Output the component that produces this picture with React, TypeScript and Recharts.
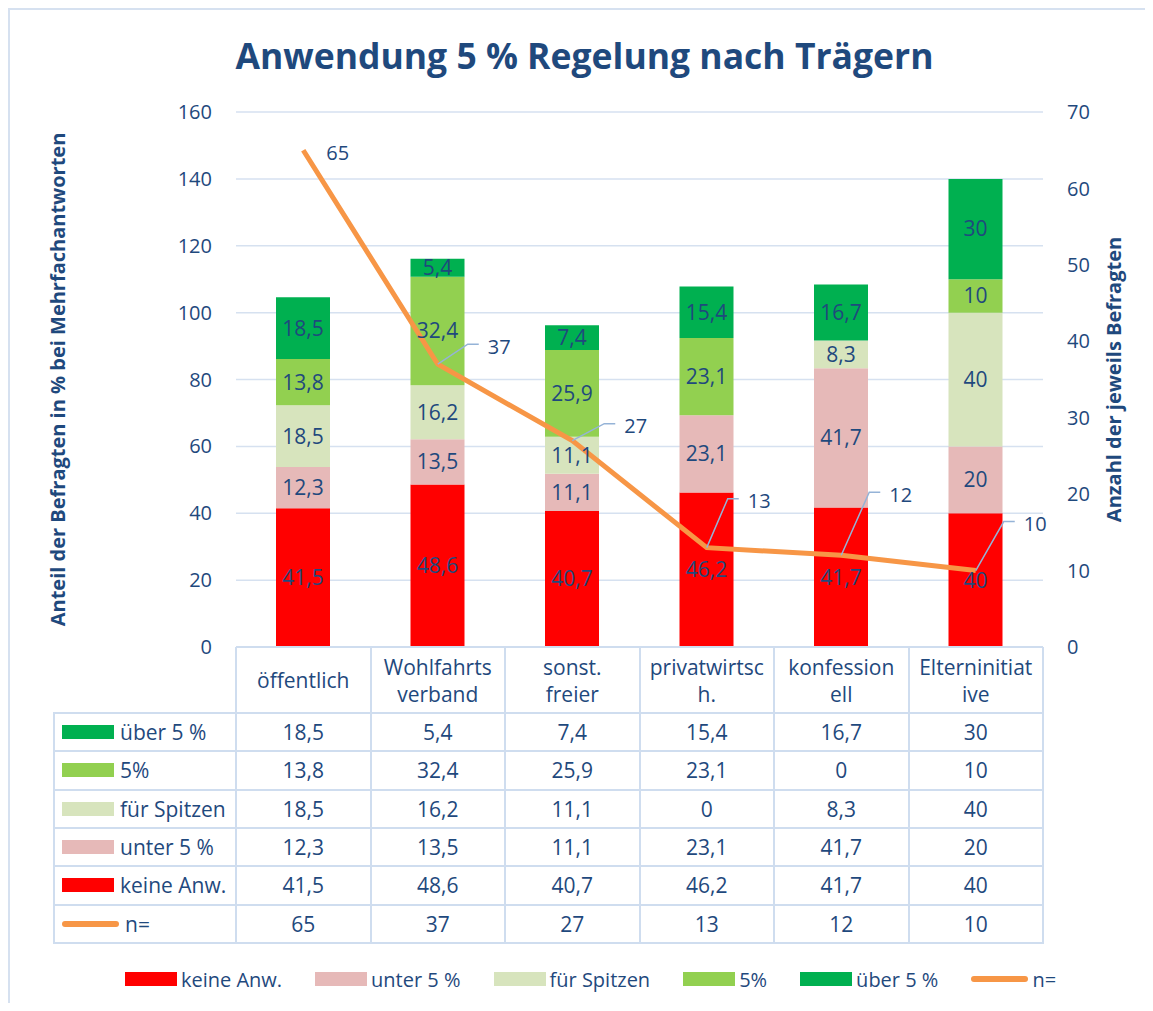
import React from 'react';
import { ComposedChart, Bar, Line, XAxis, YAxis, CartesianGrid, LabelList } from 'recharts';

// categories as printed in the table header (Excel wrapped them mid-word)
const CATEGORIES = ['öffentlich', 'Wohlfahrts\nverband', 'sonst.\nfreier', 'privatwirtsc\nh.', 'konfession\nell', 'Elterninitiat\nive'];
const KEINE_ANW = [41.5, 48.6, 40.7, 46.2, 41.7, 40];
const UNTER_5 = [12.3, 13.5, 11.1, 23.1, 41.7, 20];
const FUER_SPITZEN = [18.5, 16.2, 11.1, 0, 8.3, 40];
const FUENF = [13.8, 32.4, 25.9, 23.1, 0, 10];
const UEBER_5 = [18.5, 5.4, 7.4, 15.4, 16.7, 30];
const N_BEFRAGTE = [65, 37, 27, 13, 12, 10];
const LEFT_TICKS = [0, 20, 40, 60, 80, 100, 120, 140, 160];
const RIGHT_TICKS = [0, 10, 20, 30, 40, 50, 60, 70];

const FONT = "'Open Sans', sans-serif";
const TEXT = '#1F497D';
const GRID = '#D6E1F0';
const BORDER = '#CFDDEF';
const ORANGE = '#F79646';

const W = 1137;
const H = 995;
const PLOT_L = 228;
const PLOT_R = 1035;
const PLOT_T = 104;
const PLOT_B = 639;
const HEADER_H = 66;
const RIGHT_AXIS_W = 80;
const COL_W = (PLOT_R - PLOT_L) / CATEGORIES.length;
const ROW_TOP = PLOT_B + HEADER_H;
const ROW_H = 38.33;
const TABLE_L = 46;

const SERIES = [
  { key: 'keine', name: 'keine Anw.', color: '#FF0000', values: KEINE_ANW },
  { key: 'unter', name: 'unter 5 %', color: '#E6B9B8', values: UNTER_5 },
  { key: 'spitzen', name: 'für Spitzen', color: '#D7E4BD', values: FUER_SPITZEN },
  { key: 'fuenf', name: '5%', color: '#92D050', values: FUENF },
  { key: 'ueber', name: 'über 5 %', color: '#00B050', values: UEBER_5 },
];

const data = CATEGORIES.map((name, i) => {
  const row: any = { name, n: N_BEFRAGTE[i] };
  SERIES.forEach(s => { row[s.key] = s.values[i]; });
  return row;
});

// where the n= labels sit relative to their point (elbow of the leader line)
const N_LABEL_POS = [
  { ex: 0, ey: 0, leader: false },
  { ex: 30, ey: -20, leader: true },
  { ex: 32, ey: -17, leader: true },
  { ex: 21, ey: -49, leader: true },
  { ex: 28, ey: -63, leader: true },
  { ex: 28, ey: -49, leader: true },
];

const fmt = (v: number) => String(v).replace('.', ',');

const CategoryTick = (props: any) => {
  const { x, payload } = props;
  const lines = String(payload.value).split('\n');
  const mid = PLOT_B + 33;
  return (
    <g>
      {lines.map((l, k) => (
        <text
          key={k}
          x={x}
          y={lines.length === 1 ? mid : mid + (k - 0.5) * 27}
          textAnchor="middle"
          dominantBaseline="central"
          fill={TEXT}
          fontSize={21}
        >
          {l}
        </text>
      ))}
    </g>
  );
};

const NLabel = (props: any) => {
  const { x, y, value, index } = props;
  const idx = index ?? N_BEFRAGTE.indexOf(value);
  const p = N_LABEL_POS[idx] || N_LABEL_POS[0];
  if (!p.leader) {
    return (
      <text x={x + 23} y={y + 2} dominantBaseline="central" fill={TEXT} fontSize={20}>
        {value}
      </text>
    );
  }
  const ex = x + p.ex;
  const ey = y + p.ey;
  return (
    <g>
      <polyline points={`${x},${y} ${ex},${ey} ${ex + 11},${ey}`} fill="none" stroke="#95B3D7" strokeWidth={1.5} />
      <text x={ex + 20} y={ey + 2} dominantBaseline="central" fill={TEXT} fontSize={20}>
        {value}
      </text>
    </g>
  );
};

const Swatch = ({ color, line }: { color: string; line?: boolean }) =>
  line ? (
    <div style={{ width: 57, height: 6, borderRadius: 3, background: ORANGE }} />
  ) : (
    <div style={{ width: 52, height: 14, background: color }} />
  );

export default function App() {
  const tableRows = [
    ...[...SERIES].reverse().map(s => ({ label: s.name, color: s.color, values: s.values, line: false })),
    { label: 'n=', color: ORANGE, values: N_BEFRAGTE, line: true },
  ];
  const legendItems = [
    ...SERIES.map(s => ({ label: s.name, color: s.color, line: false })),
    { label: 'n=', color: ORANGE, line: true },
  ];

  return (
    <div
      style={{
        position: 'relative',
        width: W,
        height: H,
        fontFamily: FONT,
        color: TEXT,
        borderLeft: `2px solid ${GRID}`,
        borderTop: `2px solid ${GRID}`,
        boxSizing: 'border-box',
        background: '#fff',
        overflow: 'hidden',
      }}
    >
      <div
        style={{
          position: 'absolute',
          left: 6,
          top: 22,
          width: W,
          textAlign: 'center',
          fontSize: 35.5,
          fontWeight: 700,
          lineHeight: '46px',
        }}
      >
        Anwendung 5 % Regelung nach Trägern
      </div>

      <div style={{ position: 'absolute', left: -2, top: -2 }}>
        <ComposedChart
          width={W}
          height={H}
          data={data}
          margin={{ top: PLOT_T, right: W - PLOT_R - RIGHT_AXIS_W, left: 50, bottom: H - PLOT_B - HEADER_H }}
        >
          <CartesianGrid yAxisId="left" vertical={false} stroke={GRID} strokeWidth={1.5} />
          <XAxis
            dataKey="name"
            height={HEADER_H}
            interval={0}
            tickLine={false}
            tickSize={0}
            tickMargin={0}
            axisLine={{ stroke: BORDER, strokeWidth: 2 }}
            tick={<CategoryTick />}
          />
          <YAxis
            yAxisId="left"
            domain={[0, 160]}
            ticks={LEFT_TICKS}
            width={178}
            axisLine={false}
            tickLine={false}
            tickSize={0}
            tickMargin={24}
            tick={{ fill: TEXT, fontSize: 20 }}
            label={{
              value: 'Anteil der Befragten in % bei Mehrfachantworten',
              angle: -90,
              position: 'insideLeft',
              offset: 0,
              style: { textAnchor: 'middle', fill: TEXT, fontWeight: 700, fontSize: 20 },
            }}
          />
          <YAxis
            yAxisId="right"
            orientation="right"
            domain={[0, 70]}
            ticks={RIGHT_TICKS}
            width={RIGHT_AXIS_W}
            axisLine={false}
            tickLine={false}
            tickSize={0}
            tickMargin={24}
            tick={{ fill: TEXT, fontSize: 20, textAnchor: 'start' }}
            label={{
              value: 'Anzahl der jeweils Befragten',
              angle: -90,
              position: 'insideRight',
              offset: 9,
              style: { textAnchor: 'middle', fill: TEXT, fontWeight: 700, fontSize: 20 },
            }}
          />
          {SERIES.map(s => (
            <Bar
              key={s.key}
              yAxisId="left"
              dataKey={s.key}
              name={s.name}
              stackId="a"
              fill={s.color}
              barSize={54}
              isAnimationActive={false}
            >
              <LabelList
                dataKey={s.key}
                position="center"
                formatter={(v: any) => (v ? fmt(v) : '')}
                fill={TEXT}
                fontSize={21}
              />
            </Bar>
          ))}
          <Line
            yAxisId="right"
            type="linear"
            dataKey="n"
            name="n="
            stroke={ORANGE}
            strokeWidth={5}
            dot={false}
            isAnimationActive={false}
          >
            <LabelList dataKey="n" content={<NLabel />} />
          </Line>
        </ComposedChart>
      </div>

      {/* data table under the plot */}
      <div style={{ position: 'absolute', left: -2, top: -2, width: W, height: H, pointerEvents: 'none' }}>
        {Array.from({ length: CATEGORIES.length + 1 }).map((_, i) => (
          <div
            key={`v${i}`}
            style={{
              position: 'absolute',
              left: PLOT_L + i * COL_W - 1,
              top: PLOT_B,
              width: 2,
              height: ROW_TOP + ROW_H * tableRows.length - PLOT_B,
              background: BORDER,
            }}
          />
        ))}
        <div
          style={{
            position: 'absolute',
            left: TABLE_L - 1,
            top: ROW_TOP,
            width: 2,
            height: ROW_H * tableRows.length,
            background: BORDER,
          }}
        />
        {Array.from({ length: tableRows.length + 1 }).map((_, r) => (
          <div
            key={`h${r}`}
            style={{
              position: 'absolute',
              left: TABLE_L - 1,
              top: ROW_TOP + r * ROW_H - 1,
              width: PLOT_R - TABLE_L + 2,
              height: 2,
              background: BORDER,
            }}
          />
        ))}
        {tableRows.map((row, r) => (
          <React.Fragment key={row.label}>
            <div
              style={{
                position: 'absolute',
                left: TABLE_L + 8,
                top: ROW_TOP + r * ROW_H,
                height: ROW_H,
                display: 'flex',
                alignItems: 'center',
                gap: 6,
                fontSize: 21,
              }}
            >
              <Swatch color={row.color} line={row.line} />
              <span>{row.label}</span>
            </div>
            {row.values.map((v, c) => (
              <div
                key={c}
                style={{
                  position: 'absolute',
                  left: PLOT_L + c * COL_W,
                  top: ROW_TOP + r * ROW_H,
                  width: COL_W,
                  height: ROW_H,
                  display: 'flex',
                  alignItems: 'center',
                  justifyContent: 'center',
                  fontSize: 21,
                }}
              >
                {fmt(v)}
              </div>
            ))}
          </React.Fragment>
        ))}

        {/* legend */}
        <div
          style={{
            position: 'absolute',
            left: 14,
            top: 956,
            width: W,
            height: 30,
            display: 'flex',
            justifyContent: 'center',
            alignItems: 'center',
            gap: 33,
            fontSize: 20,
          }}
        >
          {legendItems.map(it => (
            <div key={it.label} style={{ display: 'flex', alignItems: 'center', gap: 4 }}>
              <Swatch color={it.color} line={it.line} />
              <span>{it.label}</span>
            </div>
          ))}
        </div>
      </div>
    </div>
  );
}
